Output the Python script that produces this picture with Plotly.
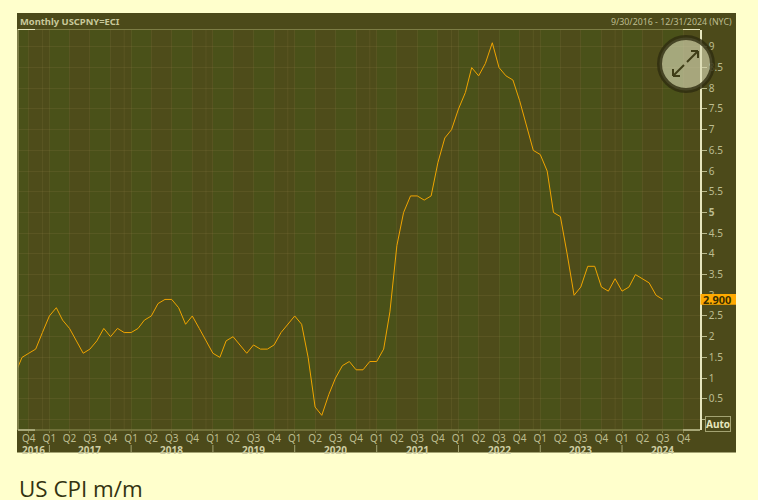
import pandas as pd
import plotly.graph_objects as go

# ---------- data ----------
months = pd.date_range("2016-08-01", "2024-07-01", freq="MS").strftime("%Y-%m-%d").tolist()
cpi = [1.1, 1.5, 1.6, 1.7, 2.1,
       2.5, 2.7, 2.4, 2.2, 1.9, 1.6, 1.7, 1.9, 2.2, 2.0, 2.2, 2.1,
       2.1, 2.2, 2.4, 2.5, 2.8, 2.9, 2.9, 2.7, 2.3, 2.5, 2.2, 1.9,
       1.6, 1.5, 1.9, 2.0, 1.8, 1.6, 1.8, 1.7, 1.7, 1.8, 2.1, 2.3,
       2.5, 2.3, 1.5, 0.3, 0.1, 0.6, 1.0, 1.3, 1.4, 1.2, 1.2, 1.4,
       1.4, 1.7, 2.6, 4.2, 5.0, 5.4, 5.4, 5.3, 5.4, 6.2, 6.8, 7.0,
       7.5, 7.9, 8.5, 8.3, 8.6, 9.1, 8.5, 8.3, 8.2, 7.7, 7.1, 6.5,
       6.4, 6.0, 5.0, 4.9, 4.0, 3.0, 3.2, 3.7, 3.7, 3.2, 3.1, 3.4,
       3.1, 3.2, 3.5, 3.4, 3.3, 3.0, 2.9]
quarter_starts = pd.date_range("2016-10-01", "2024-10-01", freq="QS").strftime("%Y-%m-%d").tolist()
quarter_labels = [f"Q{pd.Timestamp(d).quarter}" for d in quarter_starts]
year_labels = ["2016", "2017", "2018", "2019", "2020", "2021", "2022", "2023", "2024"]
year_label_dates = ["2016-10-22", "2017-07-01", "2018-07-01", "2019-07-01", "2020-07-01",
                    "2021-07-01", "2022-07-01", "2023-07-01", "2024-07-01"]
year_starts = ["2017-01-01", "2018-01-01", "2019-01-01", "2020-01-01", "2021-01-01",
               "2022-01-01", "2023-01-01", "2024-01-01"]
december_lines = ["2016-12-01", "2017-12-01", "2018-12-01", "2019-12-01", "2020-12-01",
                  "2021-12-01", "2022-12-01", "2023-12-01"]
y_ticks = [0, 0.5, 1, 1.5, 2, 2.5, 3, 3.5, 4, 4.5, 5, 5.5, 6, 6.5, 7, 7.5, 8, 8.5, 9]
y_tick_text = ["", "0.5", "1", "1.5", "2", "2.5", "3", "3.5", "4", "4.5", "<b>5</b>", "5.5",
               "6", "6.5", "7", "7.5", "8", "8.5", "9"]
last_value_label = "2.900"
x_start, x_end = "2016-08-14", "2024-12-14"

# ---------- style ----------
W, H = 758, 500
CREAM = "#FFFFCC"
PANEL = "#4C4A1A"
GREEN = "#4A5119"
BROWN = "#4E4C1A"
GRID = "rgba(140,125,70,0.2)"
TXT = "#BDBD90"
BRIGHT = "#E6E6BE"
FRAME = "#7C7C45"
ORANGE = "#FFAA00"
FONT = "Noto Sans"


def px(x):
    return x / W


def py(y):
    return 1 - y / H


def rect(x0, y0, x1, y1, fill, layer="below"):
    return dict(type="rect", xref="paper", yref="paper", x0=px(x0), x1=px(x1), y0=py(y0), y1=py(y1),
                fillcolor=fill, line_width=0, layer=layer)


def seg(x0, y0, x1, y1, color, width=1, layer="above"):
    return dict(type="line", xref="paper", yref="paper", x0=px(x0), x1=px(x1), y0=py(y0), y1=py(y1),
                line=dict(color=color, width=width), layer=layer)


shapes = [rect(17, 13, 736, 452.5, PANEL)]

# alternating quarter bands
edges = [x_start] + quarter_starts + [x_end]
for i in range(len(edges) - 1):
    shapes.append(dict(type="rect", xref="x", yref="paper", x0=edges[i], x1=edges[i + 1],
                       y0=py(430), y1=py(29.5), line_width=0, layer="below",
                       fillcolor=GREEN if i % 2 == 0 else BROWN))
for d in december_lines:
    shapes.append(dict(type="line", xref="x", yref="paper", x0=d, x1=d, y0=py(430), y1=py(29.5),
                       line=dict(color=GRID, width=1), layer="between"))
for d in year_starts:
    shapes.append(dict(type="line", xref="x", yref="paper", x0=d, x1=d, y0=py(445), y1=py(452.5),
                       line=dict(color="#A3A372", width=1), layer="above"))

# frame
shapes += [
    seg(17, 29.5, 700, 29.5, FRAME),
    seg(18, 29.5, 18, 430, "#8E8E58", 1.5),
    seg(18, 430, 700, 430, FRAME, 1.5),
    seg(18, 29.5, 35, 29.5, BRIGHT),
    seg(683, 29.5, 700, 29.5, BRIGHT),
    seg(18, 430, 35, 430, "#B9B98B", 1.5),
    seg(683, 430, 700, 430, "#B9B98B", 1.5),
]

# last value box
shapes.append(rect(700.5, 294, 736, 304.7, ORANGE, "above"))

# expand button
shapes.append(dict(type="circle", xref="paper", yref="paper", x0=px(659.5), x1=px(712.5),
                   y0=py(90.5), y1=py(37.5), fillcolor="rgba(218,218,180,0.64)",
                   line=dict(color="rgba(46,44,15,0.8)", width=5), layer="above"))
arrow_dark = "#3F3D17"
shapes += [
    seg(687, 62, 698, 51, arrow_dark, 2),
    seg(691, 51, 698, 51, arrow_dark, 2),
    seg(698, 51, 698, 58, arrow_dark, 2),
    seg(684, 65, 673, 76, arrow_dark, 2),
    seg(673, 69, 673, 76, arrow_dark, 2),
    seg(673, 76, 680, 76, arrow_dark, 2),
]

annotations = [
    dict(text="<b>Monthly USCPNY=ECI</b>", xref="paper", yref="paper", x=px(18), y=py(21.5),
         xanchor="left", yanchor="middle", showarrow=False, font=dict(family=FONT, size=9.4, color="#C8C89A")),
    dict(text="9/30/2016 - 12/31/2024 (NYC)", xref="paper", yref="paper", x=px(734), y=py(21.5),
         xanchor="right", yanchor="middle", showarrow=False, font=dict(family=FONT, size=8.8, color=TXT)),
    dict(text=f"<b>{last_value_label}</b>", xref="paper", yref="paper", x=px(700.5), y=py(299.5),
         xanchor="left", yanchor="middle", showarrow=False, font=dict(family=FONT, size=11, color="#3A3000")),
    dict(text="<b>Auto</b>", xref="paper", yref="paper", x=px(717.5), y=py(424), xanchor="center",
         yanchor="middle", showarrow=False, font=dict(family=FONT, size=10, color=BRIGHT),
         bordercolor="#A3A372", borderwidth=1, borderpad=0, bgcolor=PANEL),
    dict(text="US CPI m/m", xref="paper", yref="paper", x=px(17), y=py(488), xanchor="left",
         yanchor="middle", valign="middle", height=22, showarrow=False,
         font=dict(family="Open Sans", size=22.4, color="#333310")),
]
for label, d in zip(year_labels, year_label_dates):
    annotations.append(dict(text=f"<b>{label}</b>", xref="x", yref="paper", x=d, y=py(449.5),
                            xanchor="center", yanchor="middle", showarrow=False, height=9,
                            font=dict(family=FONT, size=10, color="#CFCFA5")))

fig = go.Figure(go.Scatter(x=months, y=cpi, mode="lines", line=dict(color="#F0A400", width=1),
                           hoverinfo="skip"))
fig.update_layout(
    width=W, height=H, margin=dict(l=0, r=0, t=0, b=0), paper_bgcolor=CREAM, plot_bgcolor=GREEN,
    showlegend=False, shapes=shapes, annotations=annotations,
    xaxis=dict(domain=[px(18), px(700)], range=[x_start, x_end], type="date", tickvals=quarter_starts,
               ticktext=quarter_labels, tickangle=0, tickfont=dict(family=FONT, size=10, color=TXT),
               ticklabelstandoff=-3,
               ticks="outside", ticklen=2, tickcolor=FRAME, showgrid=True, gridcolor=GRID, gridwidth=1,
               showline=False, zeroline=False),
    yaxis=dict(domain=[py(430), py(29.5)], range=[-0.254, 9.42], side="right", tickvals=y_ticks,
               ticktext=y_tick_text, tickfont=dict(family=FONT, size=10, color=TXT),
               ticks="outside", ticklen=5, tickcolor="#B9B98B", showgrid=True, gridcolor=GRID, gridwidth=1,
               showline=True, linecolor=BRIGHT, linewidth=1.5, zeroline=False),
)
fig.write_html("out.html", post_script="document.body.style.margin='0';",
               config=dict(displayModeBar=False))
